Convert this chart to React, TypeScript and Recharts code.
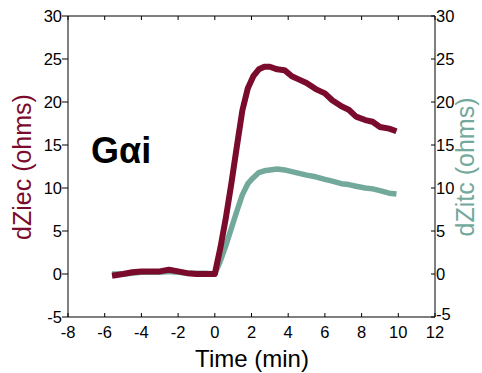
import { LineChart, Line, XAxis, YAxis } from 'recharts'

const time = [-5.6, -5, -4.5, -4, -3.5, -3, -2.5, -2, -1.5, -1, -0.5, 0, 0.3, 0.6, 0.9, 1.2, 1.5, 1.8, 2.1, 2.4, 2.7, 3.0, 3.4, 3.8, 4.2, 4.6, 5.0, 5.5, 6.0, 6.4, 6.9, 7.3, 7.7, 8.2, 8.6, 9.0, 9.5, 9.9]
const dZiec = [-0.2, 0, 0.2, 0.3, 0.3, 0.3, 0.5, 0.3, 0.1, 0, 0, 0, 3.0, 6.5, 10.5, 14.8, 19.0, 21.6, 23.0, 23.8, 24.1, 24.1, 23.8, 23.7, 23.0, 22.6, 22.2, 21.5, 21.0, 20.2, 19.5, 19.1, 18.3, 17.9, 17.7, 17.1, 16.9, 16.6]
const dZitc = [0, 0, 0.1, 0.2, 0.2, 0.2, 0.3, 0.2, 0.1, 0.1, 0.1, 0, 1.5, 3.3, 5.3, 7.3, 9.2, 10.5, 11.2, 11.8, 12.0, 12.1, 12.2, 12.1, 11.9, 11.7, 11.5, 11.3, 11.0, 10.8, 10.5, 10.4, 10.2, 10.0, 9.9, 9.7, 9.4, 9.3]
const xTicks = [-8, -6, -4, -2, 0, 2, 4, 6, 8, 10, 12]
const yTicks = [-5, 0, 5, 10, 15, 20, 25, 30]

const data = time.map((t, i) => ({ t, ziec: dZiec[i], zitc: dZitc[i] }))

const RED = '#7a0b2d'
const TEAL = '#72a99b'
const FONT = 'Liberation Sans, Arial, sans-serif'

const BottomTick = (props: any) => {
  const { x, y, payload } = props
  return (
    <g>
      <line x1={x} y1={y} x2={x} y2={y - 4} stroke="#000" />
      <text x={x} y={y + 21} textAnchor="middle" fontSize={16.5} fontFamily={FONT} fill="#000">{payload.value}</text>
    </g>
  )
}

const TopTick = (props: any) => {
  const { x, y } = props
  return <line x1={x} y1={y} x2={x} y2={y + 4} stroke="#000" />
}

const RightTick = (props: any) => {
  const { x, y, payload } = props
  // the lowest label sits on the corner, nudge it up a little so it clears "12"
  const dy = payload.value === -5 ? 3 : 6
  return (
    <g>
      <line x1={x} y1={y} x2={x - 4} y2={y} stroke="#000" />
      <text x={x + 1} y={y + dy} textAnchor="start" fontSize={16.5} fontFamily={FONT} fill="#000">{payload.value}</text>
    </g>
  )
}

const LeftTitle = () => (
  <text x={31} y={167} transform="rotate(-90 31 167)" textAnchor="middle" fontSize={25} fontFamily={FONT} fill={RED}>dZiec (ohms)</text>
)

const RightTitle = () => (
  <text x={474} y={167} transform="rotate(-90 474 167)" textAnchor="middle" fontSize={25} fontFamily={FONT} fill={TEAL}>dZitc (ohms)</text>
)

const XTitle = () => (
  <text x={252} y={367} textAnchor="middle" fontSize={24} fontFamily={FONT} fill="#000">Time (min)</text>
)

export default function App() {
  return (
    <div style={{ position: 'absolute', left: 0, top: 0, background: '#fff' }}>
      <LineChart width={482} height={373} data={data} margin={{ top: 0, right: 0, bottom: 0, left: 0 }}>
        <XAxis dataKey="t" type="number" domain={[-8, 12]} ticks={xTicks} height={56} tickSize={0} tickMargin={0}
          axisLine={{ stroke: '#000' }} tick={<BottomTick />} label={<XTitle />} />
        <XAxis xAxisId="top" orientation="top" dataKey="t" type="number" domain={[-8, 12]} ticks={xTicks} height={16}
          tickSize={0} tickMargin={0} axisLine={{ stroke: '#000' }} tick={<TopTick />} />
        <YAxis yAxisId="left" type="number" domain={[-5, 30]} ticks={yTicks} width={68} tickSize={6} tickMargin={0}
          axisLine={{ stroke: '#000' }} tickLine={{ stroke: '#000' }}
          tick={{ fill: '#000', fontSize: 16.5, fontFamily: FONT }} label={<LeftTitle />} />
        <YAxis yAxisId="right" orientation="right" type="number" domain={[-5, 30]} ticks={yTicks} width={47}
          tickSize={0} tickMargin={0} axisLine={{ stroke: '#000' }} tick={<RightTick />} label={<RightTitle />} />
        <Line yAxisId="right" dataKey="zitc" stroke={TEAL} strokeWidth={5.5} dot={false} type="linear"
          strokeLinejoin="round" isAnimationActive={false} />
        <Line yAxisId="left" dataKey="ziec" stroke={RED} strokeWidth={6} dot={false} type="linear"
          strokeLinejoin="round" isAnimationActive={false} />
        <text x={91} y={163} fontSize={36} fontWeight="bold" fontFamily={FONT} fill="#000">Gαi</text>
      </LineChart>
    </div>
  )
}
